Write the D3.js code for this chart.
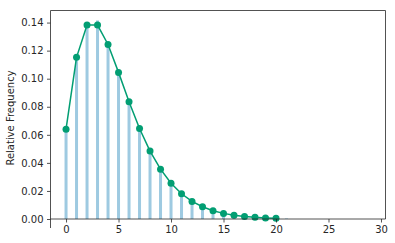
<!DOCTYPE html>
<html>
<head>
<meta charset="utf-8">
<script src="https://cdn.jsdelivr.net/npm/d3@7"></script>
<style>
  body { margin: 0; background: #fff; }
  text { font-family: "DejaVu Sans", sans-serif; fill: #262626; }
</style>
</head>
<body>
<div id="chart-area"></div>
<script>
// observed relative frequencies (bars)
var barX = [0, 1, 2, 3, 4, 5, 6, 7, 8, 9, 10, 11, 12, 13, 14, 15, 16, 17, 18, 19, 20, 21];
var barY = [0.064, 0.115, 0.138, 0.1415, 0.123, 0.103, 0.083, 0.064, 0.048, 0.035, 0.025,
            0.0175, 0.012, 0.0085, 0.006, 0.004, 0.0027, 0.0017, 0.0012, 0.0007, 0.0004, 0.0004];

// model probabilities (line + dots)
var pmfX = [0, 1, 2, 3, 4, 5, 6, 7, 8, 9, 10, 11, 12, 13, 14, 15, 16, 17, 18, 19, 20];
var pmfY = [0.064, 0.1152, 0.1382, 0.1382, 0.1244, 0.1045, 0.0836, 0.0645, 0.0484, 0.0355, 0.0255,
            0.018, 0.0125, 0.0087, 0.0059, 0.004, 0.0027, 0.0018, 0.0012, 0.0008, 0.0005];

var xTicks = [0, 5, 10, 15, 20, 25, 30];
var yTicks = [0, 0.02, 0.04, 0.06, 0.08, 0.10, 0.12, 0.14];

var W = 395, H = 243;
var pLeft = 50.5, pRight = 385.5, pTop = 10.5, pBottom = 219;

var svg = d3.select("#chart-area").append("svg")
    .attr("width", W)
    .attr("height", H);

var x = d3.scaleLinear().domain([-1.48, 30.43]).range([pLeft, pRight]);
var y = d3.scaleLinear().domain([0, 0.1486]).range([pBottom, pTop]);

// bars
svg.selectAll("rect.bar")
    .data(barX)
    .enter()
    .append("rect")
    .attr("class", "bar")
    .attr("x", (d) => x(d) - 1.5)
    .attr("width", 3)
    .attr("y", (d, i) => y(barY[i]))
    .attr("height", (d, i) => pBottom - y(barY[i]))
    .attr("fill", "#9ecae1");

// line
var line = d3.line()
    .x((d) => x(d))
    .y((d, i) => y(pmfY[i]));

svg.append("path")
    .datum(pmfX)
    .attr("d", line)
    .attr("fill", "none")
    .attr("stroke", "#029e73")
    .attr("stroke-width", 1.5);

svg.selectAll("circle")
    .data(pmfX)
    .enter()
    .append("circle")
    .attr("cx", (d) => x(d))
    .attr("cy", (d, i) => y(pmfY[i]))
    .attr("r", 3.5)
    .attr("fill", "#029e73");

// axes
var xAxis = d3.axisBottom(x).tickValues(xTicks).tickFormat(d3.format("d")).tickSize(3.5).tickPadding(3.5);
var gx = svg.append("g").attr("transform", "translate(0," + pBottom + ")").call(xAxis);
gx.select(".domain").remove();
gx.selectAll("line").attr("stroke", "#262626").attr("stroke-width", 0.8);
gx.selectAll("text").style("font-size", "10px");

var yAxis = d3.axisLeft(y).tickValues(yTicks).tickFormat(d3.format(".2f")).tickSize(3.5).tickPadding(3.5);
var gy = svg.append("g").attr("transform", "translate(" + pLeft + ",0)").call(yAxis);
gy.select(".domain").remove();
gy.selectAll("line").attr("stroke", "#262626").attr("stroke-width", 0.8);
gy.selectAll("text").style("font-size", "10px");

// frame
var spine = svg.append("g").attr("stroke", "#262626").attr("stroke-width", 0.8).attr("fill", "none");
spine.append("line").attr("x1", pLeft).attr("x2", pLeft).attr("y1", pTop).attr("y2", pBottom + 9);
spine.append("line").attr("x1", pLeft).attr("x2", pRight).attr("y1", pBottom).attr("y2", pBottom);
spine.append("line").attr("x1", pRight).attr("x2", pRight).attr("y1", pTop).attr("y2", pBottom);
spine.append("line").attr("x1", pLeft).attr("x2", pRight).attr("y1", pTop).attr("y2", pTop);

svg.append("text")
    .attr("transform", "translate(14,118) rotate(-90)")
    .attr("text-anchor", "middle")
    .style("font-size", "10px")
    .text("Relative Frequency");
</script>
</body>
</html>
